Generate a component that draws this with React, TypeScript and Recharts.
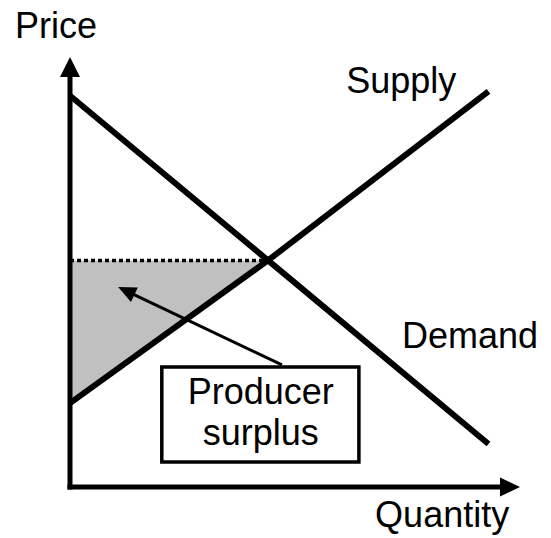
import React from 'react';
import { ComposedChart, XAxis, YAxis, Line, Area, ReferenceLine, ReferenceDot, ReferenceArea } from 'recharts';

// Quantity points (equilibrium in the middle)
const quantity = [0, 4.4, 9.3];
const demandPrice = [9.1, 5.27, 1.0];
const supplyPrice = [1.95, 5.27, 9.2];
const eqQuantity = 4.4;
const eqPrice = 5.27;

// Axis extent
const axisMax = 10;

// Text labels
const axisLabels = { y: 'Price', x: 'Quantity' };
const curveLabels = { supply: 'Supply', demand: 'Demand' };
const boxLines = ['Producer', 'surplus'];

const data = quantity.map((q, i) => ({
  q,
  demand: demandPrice[i],
  supply: supplyPrice[i],
  surplus: q <= eqQuantity ? [supplyPrice[i], eqPrice] : undefined,
  eq: q <= eqQuantity ? eqPrice : undefined,
}));

const FONT = '"Liberation Sans", Arial, sans-serif';

const arrowShape = (width: number, headLen: number, headWidth: number, cap: 'butt' | 'square') => (props: any) => {
  const { x1, y1, x2, y2 } = props;
  const dx = x2 - x1;
  const dy = y2 - y1;
  const len = Math.hypot(dx, dy) || 1;
  const ux = dx / len;
  const uy = dy / len;
  const bx = x2 - ux * headLen;
  const by = y2 - uy * headLen;
  const px = -uy;
  const py = ux;
  const hw = headWidth / 2;
  const pts = `${x2},${y2} ${bx + px * hw},${by + py * hw} ${bx - px * hw},${by - py * hw}`;
  return (
    <g>
      <line x1={x1} y1={y1} x2={bx + ux * 1} y2={by + uy * 1} stroke="#000" strokeWidth={width} strokeLinecap={cap} />
      <polygon points={pts} fill="#000" />
    </g>
  );
};

const textShape = (text: string, anchor: 'start' | 'middle' | 'end' = 'middle') => (props: any) => (
  <text x={props.cx} y={props.cy} textAnchor={anchor} fontFamily={FONT} fontSize={36} fill="#000">
    {text}
  </text>
);

export default function App() {
  return (
    <div style={{ position: 'absolute', left: 0, top: 0, background: '#fff' }}>
      <ComposedChart width={551} height={538} data={data} margin={{ top: 57, right: 31, bottom: 51, left: 70 }}>
        <XAxis type="number" dataKey="q" domain={[0, axisMax]} hide allowDataOverflow />
        <YAxis type="number" domain={[0, axisMax]} hide allowDataOverflow />
        <Area
          type="linear"
          dataKey="surplus"
          stroke="none"
          fill="#c0c0c0"
          fillOpacity={1}
          isAnimationActive={false}
          dot={false}
          activeDot={false}
        />
        <Line
          type="linear"
          dataKey="eq"
          stroke="#000"
          strokeWidth={3.5}
          strokeDasharray="4 3"
          dot={false}
          activeDot={false}
          isAnimationActive={false}
        />
        <Line type="linear" dataKey="demand" stroke="#000" strokeWidth={6} dot={false} activeDot={false} isAnimationActive={false} />
        <Line type="linear" dataKey="supply" stroke="#000" strokeWidth={6} dot={false} activeDot={false} isAnimationActive={false} />
        <ReferenceLine
          segment={[{ x: 0, y: 0 }, { x: 0, y: axisMax }]}
          ifOverflow="visible"
          shape={arrowShape(5, 20, 20, 'square')}
        />
        <ReferenceLine
          segment={[{ x: 0, y: 0 }, { x: axisMax, y: 0 }]}
          ifOverflow="visible"
          shape={arrowShape(5, 20, 19, 'square')}
        />
        <ReferenceArea
          x1={2.04}
          x2={6.42}
          y1={0.58}
          y2={2.79}
          ifOverflow="visible"
          fill="#fff"
          fillOpacity={1}
          stroke="#000"
          strokeWidth={3.5}
        />
        <ReferenceLine
          segment={[{ x: 4.71, y: 2.84 }, { x: 1.07, y: 4.65 }]}
          ifOverflow="visible"
          shape={arrowShape(3, 18, 16, 'butt')}
        />
        <ReferenceDot x={-0.31} y={10.44} r={0} ifOverflow="visible" shape={textShape(axisLabels.y)} />
        <ReferenceDot x={8.27} y={-0.93} r={0} ifOverflow="visible" shape={textShape(axisLabels.x)} />
        <ReferenceDot x={7.36} y={9.16} r={0} ifOverflow="visible" shape={textShape(curveLabels.supply)} />
        <ReferenceDot x={8.89} y={3.23} r={0} ifOverflow="visible" shape={textShape(curveLabels.demand)} />
        <ReferenceDot x={4.24} y={1.93} r={0} ifOverflow="visible" shape={textShape(boxLines[0])} />
        <ReferenceDot x={4.24} y={0.98} r={0} ifOverflow="visible" shape={textShape(boxLines[1])} />
      </ComposedChart>
    </div>
  );
}
